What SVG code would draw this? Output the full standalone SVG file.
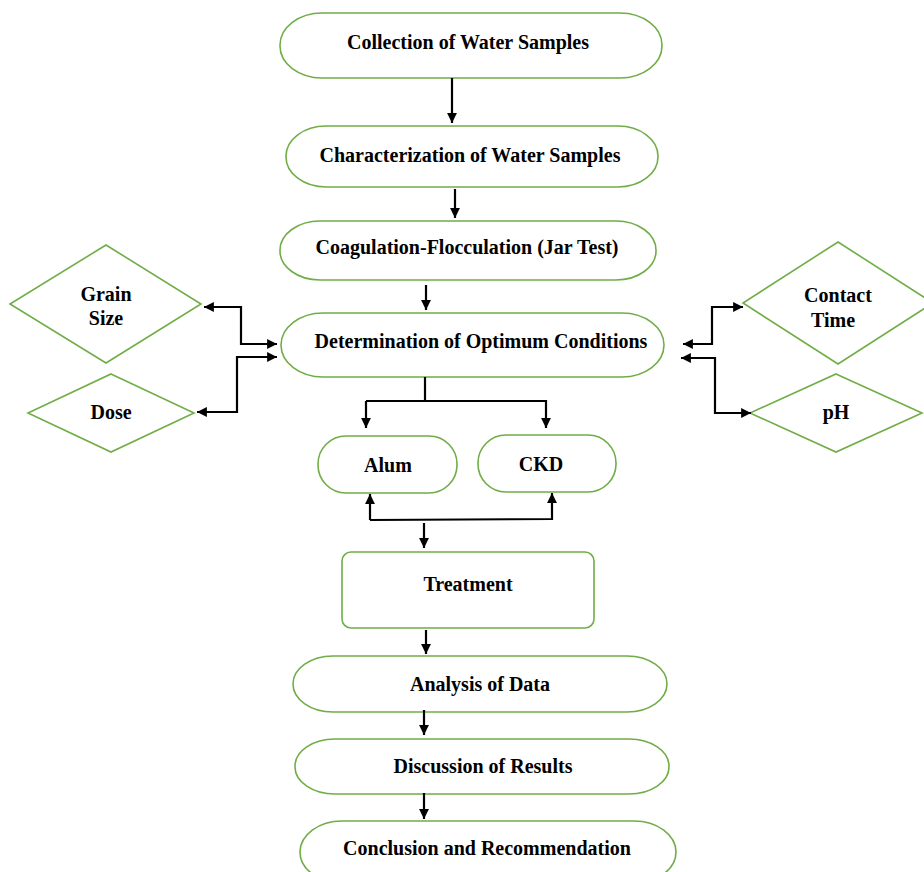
<svg xmlns="http://www.w3.org/2000/svg" width="924" height="872" viewBox="0 0 924 872">
<style>
.n{fill:#fff;stroke:#70AD47;stroke-width:1.6}
.t{font-family:"Liberation Serif","Times New Roman",serif;font-weight:bold;font-size:20px;fill:#000;text-anchor:middle}
.c{fill:none;stroke:#000;stroke-width:2.2}
</style>
<defs>
<marker id="a" viewBox="0 0 10 10" refX="10" refY="5" markerWidth="5.5" markerHeight="4.5" orient="auto-start-reverse" markerUnits="strokeWidth">
<path d="M0,0L10,5L0,10z" fill="#000"/>
</marker>
</defs>
<rect width="924" height="872" fill="#fff"/>
<g id="n1"><rect class="n" x="280" y="13" width="382" height="65" rx="42" ry="32"/><text class="t" x="468" y="49">Collection of Water Samples</text></g>
<g id="n2"><rect class="n" x="286" y="126" width="372" height="61" rx="40" ry="30"/><text class="t" x="470" y="162">Characterization of Water Samples</text></g>
<g id="n3"><rect class="n" x="280" y="221" width="376" height="59" rx="40" ry="29"/><text class="t" x="467" y="254">Coagulation-Flocculation (Jar Test)</text></g>
<g id="n4"><rect class="n" x="281" y="313" width="383" height="64" rx="42" ry="32"/><text class="t" x="481" y="348">Determination of Optimum Conditions</text></g>
<g id="grain"><polygon class="n" points="106,245 201,304 106,363 10,304"/><text class="t" x="106" y="301">Grain</text><text class="t" x="106" y="325">Size</text></g>
<g id="dose"><polygon class="n" points="111,374 194,413 111,452 28,413"/><text class="t" x="111" y="419">Dose</text></g>
<g id="contact"><polygon class="n" points="838,242 933,303 838,364 743,303"/><text class="t" x="838" y="302">Contact</text><text class="t" x="833" y="327">Time</text></g>
<g id="ph"><polygon class="n" points="836,374 922,413 836,452 750,413"/><text class="t" x="836" y="419">pH</text></g>
<g id="alum"><rect class="n" x="318" y="436" width="139" height="57" rx="28" ry="28"/><text class="t" x="388" y="472">Alum</text></g>
<g id="ckd"><rect class="n" x="478" y="435" width="138" height="57" rx="28" ry="28"/><text class="t" x="541" y="471">CKD</text></g>
<g id="treat"><rect class="n" x="342" y="552" width="252" height="76" rx="9" ry="9"/><text class="t" x="468" y="591">Treatment</text></g>
<g id="n5"><rect class="n" x="293" y="656" width="374" height="56" rx="40" ry="28"/><text class="t" x="480" y="691">Analysis of Data</text></g>
<g id="n6"><rect class="n" x="295" y="739" width="374" height="55" rx="40" ry="27"/><text class="t" x="483" y="773">Discussion of Results</text></g>
<g id="n7"><rect class="n" x="300" y="821" width="376" height="62" rx="42" ry="31"/><text class="t" x="487" y="855">Conclusion and Recommendation</text></g>
<g id="connectors">
<path class="c" marker-end="url(#a)" d="M452,78V123"/>
<path class="c" marker-end="url(#a)" d="M455,189V218"/>
<path class="c" marker-end="url(#a)" d="M426,285V310"/>
<path class="c" d="M425,377V401"/>
<path class="c" marker-end="url(#a)" d="M366,401H546V428"/>
<path class="c" marker-end="url(#a)" d="M366,401V428"/>
<path class="c" marker-end="url(#a)" d="M370,520V494"/>
<path class="c" marker-end="url(#a)" d="M370,520L552,519V493"/>
<path class="c" marker-end="url(#a)" d="M424,523V548"/>
<path class="c" marker-end="url(#a)" d="M426,630V654"/>
<path class="c" marker-end="url(#a)" d="M424,710V735"/>
<path class="c" marker-end="url(#a)" d="M424,793V819"/>
<path class="c" marker-start="url(#a)" marker-end="url(#a)" d="M204,307H241V344H277"/>
<path class="c" marker-start="url(#a)" marker-end="url(#a)" d="M277,357H237V412H197"/>
<path class="c" marker-start="url(#a)" marker-end="url(#a)" d="M683,344H712V307H743"/>
<path class="c" marker-start="url(#a)" marker-end="url(#a)" d="M681,358H715V413H751"/>
</g>
</svg>
